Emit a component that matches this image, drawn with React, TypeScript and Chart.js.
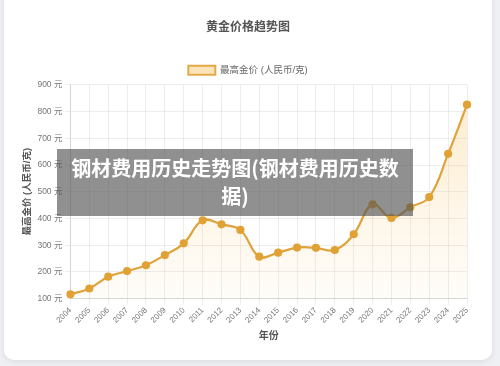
import React, { useEffect, useRef } from "react";
import { Chart, registerables } from "chart.js";

Chart.register(...registerables);

const years: string[] = [
  "2004", "2005", "2006", "2007", "2008", "2009", "2010", "2011", "2012", "2013", "2014",
  "2015", "2016", "2017", "2018", "2019", "2020", "2021", "2022", "2023", "2024", "2025",
];
const maxPrice: number[] = [
  116, 138, 182, 203, 225, 263, 307, 393, 378, 357, 257,
  272, 291, 290, 282, 341, 453, 402, 442, 480, 642, 826,
];
const chartTitle = "黄金价格趋势图";
const seriesLabel = "最高金价 (人民币/克)";
const yTitle = "最高金价 (人民币/克)";
const xTitle = "年份";
const yMin = 100;
const yMax = 900;
const yStep = 100;
const unit = " 元";
const overlayLine1 = "钢材费用历史走势图(钢材费用历史数";
const overlayLine2 = "据)";

const FONT = "'Liberation Sans', 'Noto Sans CJK SC', sans-serif";

export default function App() {
  const ref = useRef<HTMLCanvasElement | null>(null);

  useEffect(() => {
    if (!ref.current) return;
    const chart = new Chart(ref.current, {
      type: "line",
      data: {
        labels: years,
        datasets: [
          {
            label: seriesLabel,
            data: maxPrice,
            borderColor: "#dfa33c",
            borderWidth: 2.2,
            pointBackgroundColor: "#e0a235",
            pointBorderColor: "#e0a235",
            pointRadius: 3,
            tension: 0.4,
            fill: true,
            backgroundColor: (ctx: any) => {
              const c = ctx.chart;
              const area = c.chartArea;
              if (!area) return "rgba(250,205,130,0.2)";
              const g = c.ctx.createLinearGradient(0, area.top, 0, area.bottom);
              g.addColorStop(0, "rgba(250,200,120,0.4)");
              g.addColorStop(1, "rgba(250,215,150,0.06)");
              return g;
            },
          },
        ],
      },
      options: {
        animation: false,
        responsive: false,
        maintainAspectRatio: false,
        layout: { padding: { top: 12, left: 17, right: 17, bottom: 16 } },
        plugins: {
          title: {
            display: true,
            text: chartTitle,
            color: "#555",
            font: { family: FONT, size: 12, weight: "bold" },
            padding: { top: 8, bottom: 25 },
          },
          legend: {
            display: true,
            labels: {
              color: "#666",
              padding: 6,
              font: { family: FONT, size: 9.5 },
              boxWidth: 27,
              boxHeight: 9,
              generateLabels: () => [
                {
                  text: seriesLabel,
                  fillStyle: "rgba(252,222,170,0.8)",
                  strokeStyle: "#e2aa45",
                  lineWidth: 2,
                  fontColor: "#666",
                  datasetIndex: 0,
                  hidden: false,
                } as any,
              ],
            },
          },
          tooltip: { enabled: false },
        },
        scales: {
          x: {
            grid: { color: "rgba(0,0,0,0.07)", tickLength: 6 },
            border: { color: "rgba(0,0,0,0.1)" },
            ticks: {
              color: "#777",
              font: { family: FONT, size: 8 },
              minRotation: 45,
              maxRotation: 45,
              autoSkip: false,
              padding: 1,
            },
            title: {
              display: true,
              text: xTitle,
              color: "#555",
              font: { family: FONT, size: 10, weight: "bold" },
              padding: { top: 4, bottom: 2 },
            },
          },
          y: {
            min: yMin,
            max: yMax,
            grid: { color: "rgba(0,0,0,0.07)", tickLength: 5 },
            border: { color: "rgba(0,0,0,0.1)" },
            ticks: {
              stepSize: yStep,
              color: "#777",
              padding: 3,
              font: { family: FONT, size: 8.5 },
              callback: (v: any) => `${v}${unit}`,
            },
            title: {
              display: true,
              text: yTitle,
              color: "#555",
              font: { family: FONT, size: 9.5, weight: "bold" },
              padding: { top: 1, bottom: 1 },
            },
          },
          yR: {
            position: "right",
            display: true,
            grid: { display: false },
            border: { display: false },
            ticks: { display: false },
            afterFit: (s: any) => {
              s.width = 8;
            },
          },
        },
      },
    });
    return () => chart.destroy();
  }, []);

  return (
    <div
      style={{
        position: "fixed",
        left: 0,
        top: 0,
        width: 500,
        height: 366,
        background: "#eef0f3",
        overflow: "hidden",
      }}
    >
      <div
        style={{
          position: "absolute",
          left: 4,
          top: -10,
          width: 488,
          height: 370,
          background: "#fff",
          borderRadius: 10,
          boxShadow: "0 2px 6px rgba(0,0,0,0.08)",
        }}
      />
      <canvas
        ref={ref}
        width={488}
        height={360}
        style={{ position: "absolute", left: 4, top: 0, width: 488, height: 360 }}
      />
      <div
        style={{
          position: "absolute",
          left: 57,
          top: 149,
          width: 356,
          height: 67,
          background: "rgba(85,85,85,0.65)",
          color: "#fff",
          fontFamily: "'Noto Sans CJK SC', sans-serif",
          fontWeight: "bold",
          fontSize: 20,
          lineHeight: "28px",
          textAlign: "center",
          paddingTop: 5,
          boxSizing: "border-box",
        }}
      >
        {overlayLine1}
        <br />
        {overlayLine2}
      </div>
    </div>
  );
}
